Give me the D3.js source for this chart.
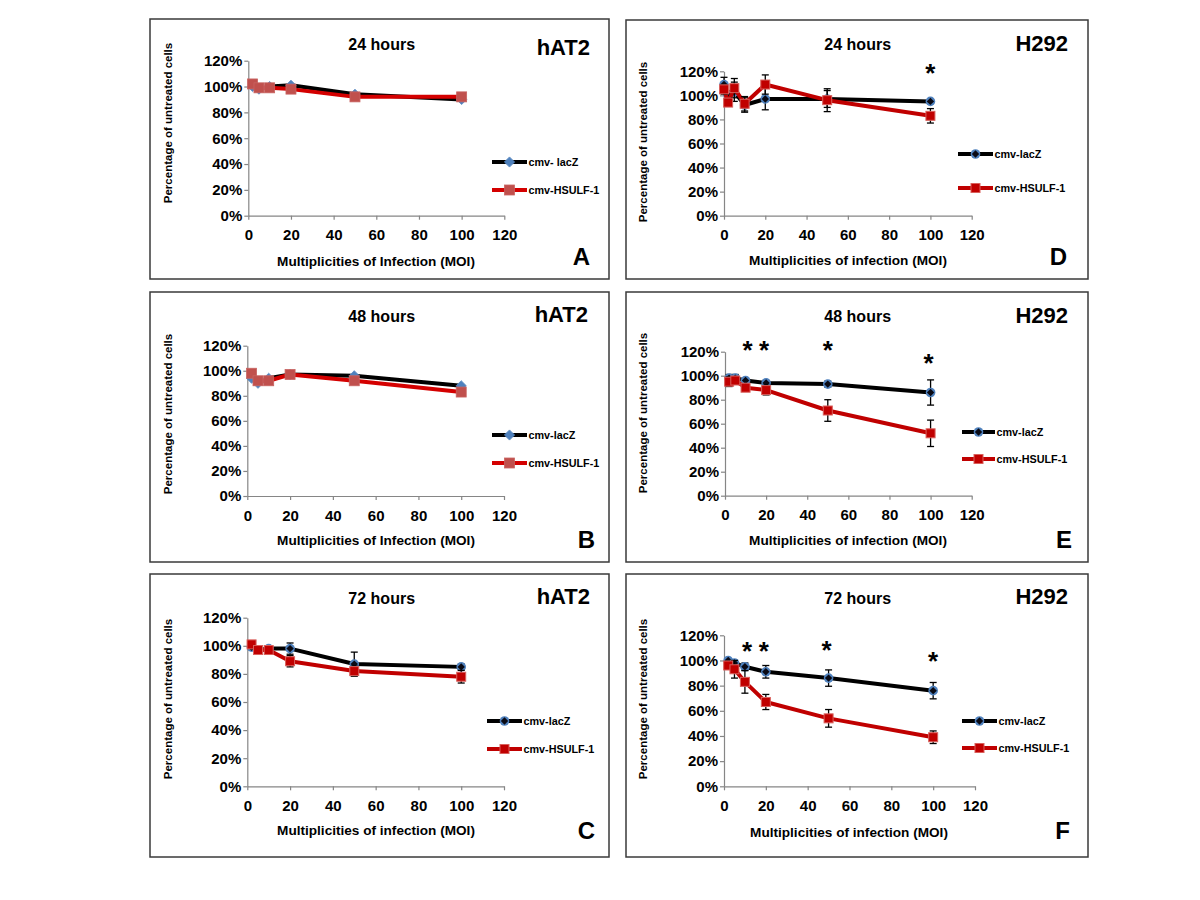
<!DOCTYPE html>
<html><head><meta charset="utf-8">
<script src="https://cdn.jsdelivr.net/npm/d3@7"></script>
<style>body{margin:0;background:#fff}svg{display:block}text{font-family:"Liberation Sans",Arial,sans-serif;font-weight:bold}</style>
</head><body>
<svg id="c" width="1200" height="900"></svg>
<script>
// ---------- DATA ----------
const xTicks = [0, 20, 40, 60, 80, 100, 120];
const yTicks = [0, 20, 40, 60, 80, 100, 120];
const seriesNames = ["cmv-lacZ", "cmv-HSULF-1"];
const legendNameA = "cmv- lacZ";
const titles = ["24 hours", "48 hours", "72 hours", "24 hours", "48 hours", "72 hours"];
const cellLines = ["hAT2", "hAT2", "hAT2", "H292", "H292", "H292"];
const panelLetters = ["A", "B", "C", "D", "E", "F"];
const xLabels = ["Multiplicities of Infection (MOI)", "Multiplicities of Infection (MOI)", "Multiplicities of infection (MOI)",
                 "Multiplicities of infection (MOI)", "Multiplicities of infection (MOI)", "Multiplicities of infection (MOI)"];
const yLabel = "Percentage of untreated cells";

const moiHat2 = [2, 5, 10, 20, 50, 100];
const moiH292D = [0, 2, 5, 10, 20, 50, 100];
const moiH292 = [2, 5, 10, 20, 50, 100];

// hAT2 24 h (A)
const lacZA = [100, 98, 100, 101, 94, 90];
const lacZAErr = [0, 0, 0, 0, 0, 0];
const hsulfA = [102, 99, 99, 98, 92, 92];
const hsulfAErr = [0, 0, 0, 0, 0, 0];
// hAT2 48 h (B)
const lacZB = [94, 90, 94, 97, 96, 88];
const lacZBErr = [0, 0, 0, 0, 0, 0];
const hsulfB = [98, 92, 92, 97, 92, 83];
const hsulfBErr = [0, 0, 0, 0, 0, 0];
// hAT2 72 h (C)
const lacZC = [99, 97, 98, 98, 87, 85];
const lacZCErr = [1, 1, 1, 4, 8.5, 2];
const hsulfC = [101, 97, 97, 89, 82, 78];
const hsulfCErr = [1, 1, 1, 4, 3.5, 4.5];
// H292 24 h (D)
const lacZD = [109, 100, 103, 92, 97, 97, 95];
const lacZDErr = [6, 4, 8, 6, 9, 7, 1.5];
const hsulfD = [105, 94, 106, 93, 109, 96, 83];
const hsulfDErr = [4, 3, 8, 6, 8, 9.5, 6];
// H292 48 h (E)
const lacZE = [98, 98, 96, 94, 93, 86];
const lacZEErr = [3, 3, 2, 2, 2.5, 10.5];
const hsulfE = [95, 96, 90, 88, 71, 52];
const hsulfEErr = [4, 3, 2, 4, 9, 11];
// H292 72 h (F)
const lacZF = [100, 98, 95, 91, 86, 76];
const lacZFErr = [1, 2, 3, 5, 6.5, 6.5];
const hsulfF = [96, 93, 83, 67, 54, 39];
const hsulfFErr = [2, 7, 9, 6, 7, 5];

// significance stars (x in MOI, y in %)
const starsDx = [100], starsDy = [122];
const starsEx = [11, 19, 50, 99], starsEy = [125, 125, 125, 114];
const starsFx = [11, 19, 49, 100], starsFy = [111, 111, 112, 103];

// ---------- LAYOUT (positions only) ----------
const layout = [
  {box:[150,19,609,279], xr:[248.3,504.3], yr:[215.7,60.7], title:[381.7,50], cell:[590,55], letter:[590,265], xl:[376,266], yl:[172,123], leg:[492,527,162,190], style:"light", legName:legendNameA},
  {box:[150,292,609,562], xr:[247.3,504], yr:[496,345.7], title:[381.7,322], cell:[588,322], letter:[595,548], xl:[376,545], yl:[172,414], leg:[492,527,435,463], style:"light"},
  {box:[150,574,609,857], xr:[247.3,504], yr:[786.3,617.7], title:[381.7,604], cell:[590,604], letter:[595,839], xl:[376,835], yl:[172,699], leg:[487,522,721,749], style:"dark"},
  {box:[626,20,1088,279], xr:[724,971.7], yr:[215.7,71.3], title:[857.7,50], cell:[1068,51], letter:[1067,265], xl:[848,265], yl:[647,142], leg:[958,993,154,188], style:"dark"},
  {box:[626,292,1088,562], xr:[725,971.7], yr:[495.7,351.7], title:[857.7,322], cell:[1068,323], letter:[1072,548], xl:[848,545], yl:[647,413], leg:[962,995,432,459], style:"dark"},
  {box:[626,574,1088,857], xr:[724,975], yr:[786.3,635.3], title:[857.7,604], cell:[1068,604], letter:[1070,839], xl:[849,837], yl:[647,699], leg:[962,997,721,748], style:"dark"}
];

const panelData = [
  {x:moiHat2, s:[[lacZA,lacZAErr],[hsulfA,hsulfAErr]], sx:[], sy:[]},
  {x:moiHat2, s:[[lacZB,lacZBErr],[hsulfB,hsulfBErr]], sx:[], sy:[]},
  {x:moiHat2, s:[[lacZC,lacZCErr],[hsulfC,hsulfCErr]], sx:[], sy:[]},
  {x:moiH292D, s:[[lacZD,lacZDErr],[hsulfD,hsulfDErr]], sx:starsDx, sy:starsDy},
  {x:moiH292, s:[[lacZE,lacZEErr],[hsulfE,hsulfEErr]], sx:starsEx, sy:starsEy},
  {x:moiH292, s:[[lacZF,lacZFErr],[hsulfF,hsulfFErr]], sx:starsFx, sy:starsFy}
];

const svg = d3.select("#c");
const AXIS = "#868686";

function marker(g, k, style, cx, cy) {
  if (k === 0) {
    if (style === "light") {
      g.append("rect").attr("x", -3.6).attr("y", -3.6).attr("width", 7.2).attr("height", 7.2)
        .attr("transform", `translate(${cx},${cy}) rotate(45)`).attr("fill", "#4F81BD").attr("stroke", "#5B8AC2").attr("stroke-width", 0.8);
    } else {
      g.append("circle").attr("cx", cx).attr("cy", cy).attr("r", 4.8)
        .attr("fill", "#4F81BD");
      g.append("rect").attr("x", -2.6).attr("y", -2.6).attr("width", 5.2).attr("height", 5.2)
        .attr("transform", `translate(${cx},${cy}) rotate(45)`).attr("fill", "#0a0a14");
    }
  } else {
    if (style === "light") {
      g.append("rect").attr("x", cx - 5).attr("y", cy - 5).attr("width", 10).attr("height", 10)
        .attr("fill", "#C0504D").attr("stroke", "#C86461").attr("stroke-width", 0.8);
    } else {
      g.append("rect").attr("x", cx - 4.5).attr("y", cy - 4.5).attr("width", 9).attr("height", 9)
        .attr("fill", "#C00000").attr("stroke", "#D9605C").attr("stroke-width", 1);
    }
  }
}

layout.forEach((L, i) => {
  const D = panelData[i];
  const g = svg.append("g");
  // frame
  g.append("rect").attr("x", L.box[0]).attr("y", L.box[1])
    .attr("width", L.box[2] - L.box[0]).attr("height", L.box[3] - L.box[1])
    .attr("fill", "none").attr("stroke", "#3a3a3a").attr("stroke-width", 1.5);

  const x = d3.scaleLinear().domain([0, 120]).range(L.xr);
  const y = d3.scaleLinear().domain([0, 120]).range(L.yr);

  // axes
  const ax = g.append("g").attr("transform", `translate(0,${L.yr[0]})`)
    .call(d3.axisBottom(x).tickValues(xTicks).tickSize(4).tickPadding(10).tickSizeOuter(0));
  const ay = g.append("g").attr("transform", `translate(${L.xr[0]},0)`)
    .call(d3.axisLeft(y).tickValues(yTicks).tickSize(4).tickPadding(2).tickSizeOuter(0).tickFormat(d => d + "%"));
  [ax, ay].forEach(a => {
    a.selectAll("path,line").attr("stroke", AXIS).attr("stroke-width", 1.2);
    a.selectAll("text").attr("fill", "#000").style("font-size", "15px").style("font-weight", "bold")
      .style("font-family", '"Liberation Sans",Arial,sans-serif');
  });

  const colors = ["#000000", L.style === "light" ? "#D40000" : "#C00000"];

  D.s.forEach((ser, k) => {
    const vals = ser[0], errs = ser[1];
    const pts = D.x.map((m, j) => [m, vals[j], errs[j]]);
    const line = d3.line().x(d => x(d[0])).y(d => y(d[1]));
    g.append("path").datum(pts).attr("d", line).attr("fill", "none")
      .attr("stroke", colors[k]).attr("stroke-width", 4).attr("stroke-linejoin", "round");
    // error bars
    const eb = g.append("g").attr("stroke", "#000").attr("stroke-width", 1.3);
    pts.filter(d => d[2] > 0).forEach(d => {
      const cx = x(d[0]);
      eb.append("line").attr("x1", cx).attr("x2", cx).attr("y1", y(d[1] - d[2])).attr("y2", y(d[1] + d[2]));
      eb.append("line").attr("x1", cx - 3.5).attr("x2", cx + 3.5).attr("y1", y(d[1] - d[2])).attr("y2", y(d[1] - d[2]));
      eb.append("line").attr("x1", cx - 3.5).attr("x2", cx + 3.5).attr("y1", y(d[1] + d[2])).attr("y2", y(d[1] + d[2]));
    });
    pts.forEach(d => marker(g, k, L.style, x(d[0]), y(d[1])));
  });

  // stars
  D.sx.forEach((sx, j) => {
    g.append("text").attr("x", x(sx)).attr("y", y(D.sy[j]) + 13.5).attr("text-anchor", "middle")
      .style("font-size", "26px").text("*");
  });

  // legend
  const [lx1, lx2, ly1, ly2] = L.leg;
  [ly1, ly2].forEach((ly, k) => {
    g.append("line").attr("x1", lx1).attr("x2", lx2).attr("y1", ly).attr("y2", ly)
      .attr("stroke", colors[k]).attr("stroke-width", 4);
    marker(g, k, L.style, (lx1 + lx2) / 2, ly);
    g.append("text").attr("x", lx2 + 1.5).attr("y", ly + 4).style("font-size", "10.8px")
      .text(k === 0 && L.legName ? L.legName : seriesNames[k]);
  });

  // texts
  g.append("text").attr("x", L.title[0]).attr("y", L.title[1]).attr("text-anchor", "middle")
    .style("font-size", "16px").text(titles[i]);
  g.append("text").attr("x", L.cell[0]).attr("y", L.cell[1]).attr("text-anchor", "end")
    .style("font-size", "22px").text(cellLines[i]);
  g.append("text").attr("x", L.letter[0]).attr("y", L.letter[1]).attr("text-anchor", "end")
    .style("font-size", "24px").text(panelLetters[i]);
  g.append("text").attr("x", L.xl[0]).attr("y", L.xl[1]).attr("text-anchor", "middle")
    .style("font-size", "13.6px").text(xLabels[i]);
  g.append("text").attr("transform", `translate(${L.yl[0]},${L.yl[1]}) rotate(-90)`).attr("text-anchor", "middle")
    .style("font-size", "11.5px").text(yLabel);
});
</script>
</body></html>
